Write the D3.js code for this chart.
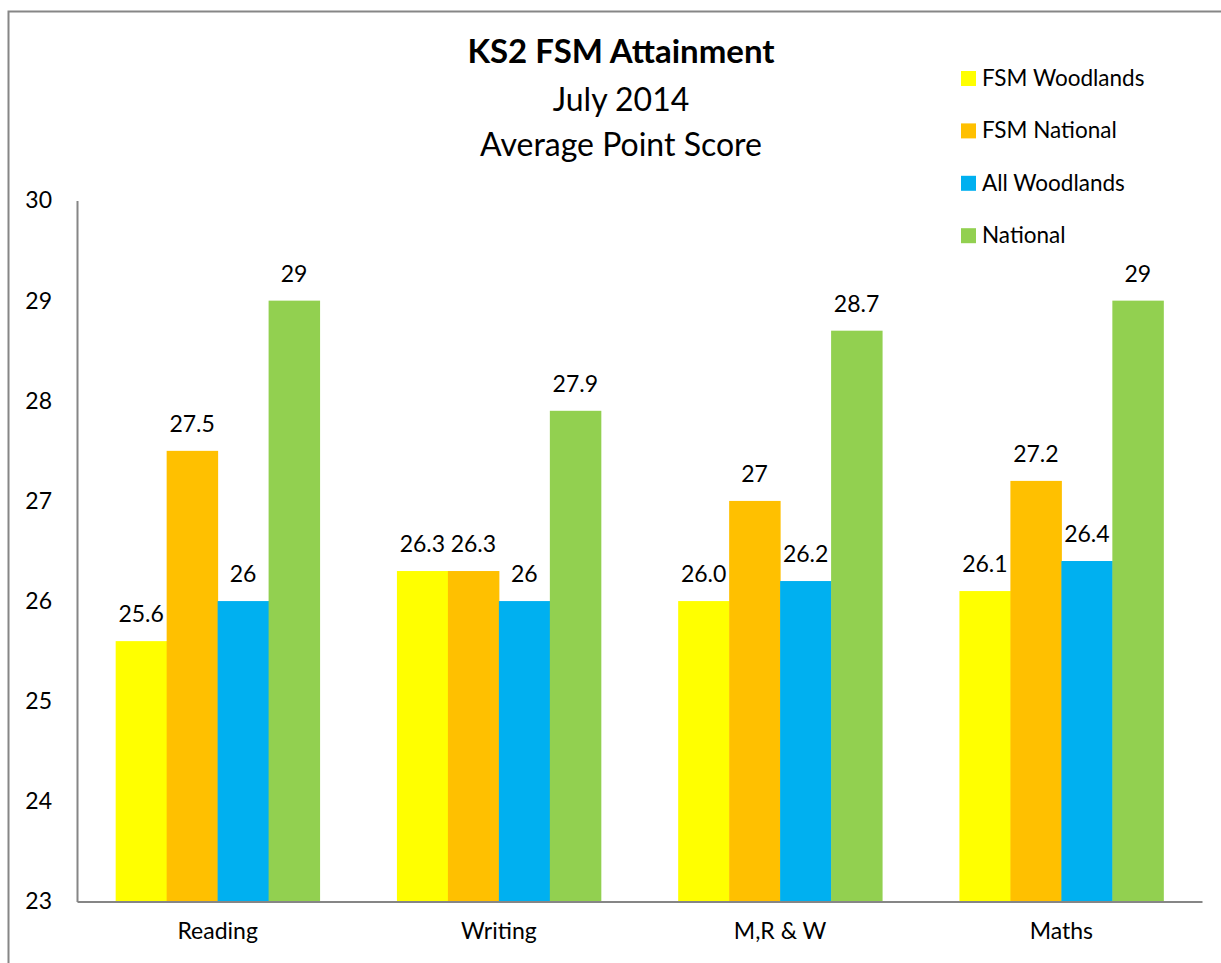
<!DOCTYPE html>
<html>
<head>
<meta charset="utf-8">
<script src="https://cdn.jsdelivr.net/npm/d3@7"></script>
<style>
  body { margin: 0; background: #fff; }
  text { font-family: Lato, "Open Sans", sans-serif; fill: #000; }
</style>
</head>
<body>
<div id="chart"></div>
<script>
// chart data
var categories = ["Reading", "Writing", "M,R & W", "Maths"];
var seriesNames = ["FSM Woodlands", "FSM National", "All Woodlands", "National"];
var seriesColors = ["#FFFF00", "#FFC000", "#00B0F0", "#92D050"];
var fsmWoodlands = [25.6, 26.3, 26.0, 26.1];
var fsmNational = [27.5, 26.3, 27, 27.2];
var allWoodlands = [26, 26, 26.2, 26.4];
var national = [29, 27.9, 28.7, 29];
// labels as printed on the chart
var fsmWoodlandsLabels = ["25.6", "26.3", "26.0", "26.1"];
var fsmNationalLabels = ["27.5", "26.3", "27", "27.2"];
var allWoodlandsLabels = ["26", "26", "26.2", "26.4"];
var nationalLabels = ["29", "27.9", "28.7", "29"];
var yTicks = [23, 24, 25, 26, 27, 28, 29, 30];

var width = 1221, height = 963;
var seriesValues = [fsmWoodlands, fsmNational, allWoodlands, national];
var seriesLabels = [fsmWoodlandsLabels, fsmNationalLabels, allWoodlandsLabels, nationalLabels];

var svg = d3.select("#chart").append("svg")
    .attr("width", width)
    .attr("height", height);

// outer chart frame (runs off the picture to the right and bottom)
svg.append("rect")
    .attr("x", 8.5).attr("y", 11.5)
    .attr("width", 1240).attr("height", 980)
    .attr("fill", "none")
    .attr("stroke", "#868686")
    .attr("stroke-width", 2);

var x0 = d3.scaleBand().domain(categories).range([77, 1202]).paddingInner(0.275).paddingOuter(0.1375);
var x1 = d3.scaleBand().domain(seriesNames).range([0, x0.bandwidth()]);
var y = d3.scaleLinear().domain([23, 30]).range([901.5, 200.5]);

// title
var title = svg.append("g").attr("text-anchor", "middle");
title.append("text").attr("x", 621).attr("y", 63).attr("font-size", 33).attr("font-weight", "bold").text("KS2 FSM Attainment");
title.append("text").attr("x", 621).attr("y", 111).attr("font-size", 32).text("July 2014");
title.append("text").attr("x", 621).attr("y", 156).attr("font-size", 32).text("Average Point Score");

// bars
var groups = svg.append("g").selectAll("g")
    .data(categories)
    .enter().append("g")
    .attr("transform", function(d) { return "translate(" + x0(d) + ",0)"; });

function cells(d, i) {
    return seriesNames.map(function(s, j) { return {series: s, j: j, value: seriesValues[j][i], label: seriesLabels[j][i]}; });
}

groups.selectAll("rect")
    .data(cells)
    .enter().append("rect")
    .attr("x", function(d) { return x1(d.series); })
    .attr("y", function(d) { return y(d.value); })
    .attr("width", x1.bandwidth() + 0.5)
    .attr("height", function(d) { return y(23) - y(d.value); })
    .attr("fill", function(d) { return seriesColors[d.j]; });

groups.selectAll("text")
    .data(cells)
    .enter().append("text")
    .attr("x", function(d) { return x1(d.series) + x1.bandwidth() / 2; })
    .attr("y", function(d) { return y(d.value) - 19; })
    .attr("text-anchor", "middle")
    .attr("font-size", 23)
    .text(function(d) { return d.label; });

// axes
var yAxis = svg.append("g")
    .attr("transform", "translate(77,0)")
    .call(d3.axisLeft(y).tickValues(yTicks).tickSize(0).tickPadding(25).tickFormat(d3.format("d")));
yAxis.select(".domain").attr("stroke", "#868686").attr("stroke-width", 2);
yAxis.selectAll("text").attr("font-size", 23).attr("font-family", "Lato, sans-serif").attr("fill", "#000");

var xAxis = svg.append("g")
    .attr("transform", "translate(0,901.5)")
    .call(d3.axisBottom(x0).tickSize(0).tickPadding(21));
xAxis.select(".domain").attr("stroke", "#868686").attr("stroke-width", 2);
xAxis.selectAll("text").attr("font-size", 23).attr("font-family", "Lato, sans-serif").attr("fill", "#000");

// legend
var legend = svg.append("g").selectAll("g")
    .data(seriesNames)
    .enter().append("g")
    .attr("transform", function(d, i) { return "translate(961," + (71 + i * 52.4) + ")"; });
legend.append("rect")
    .attr("width", 15).attr("height", 15)
    .attr("fill", function(d, i) { return seriesColors[i]; });
legend.append("text")
    .attr("x", 21).attr("y", 15)
    .attr("font-size", 22.5)
    .text(function(d) { return d; });
</script>
</body>
</html>
